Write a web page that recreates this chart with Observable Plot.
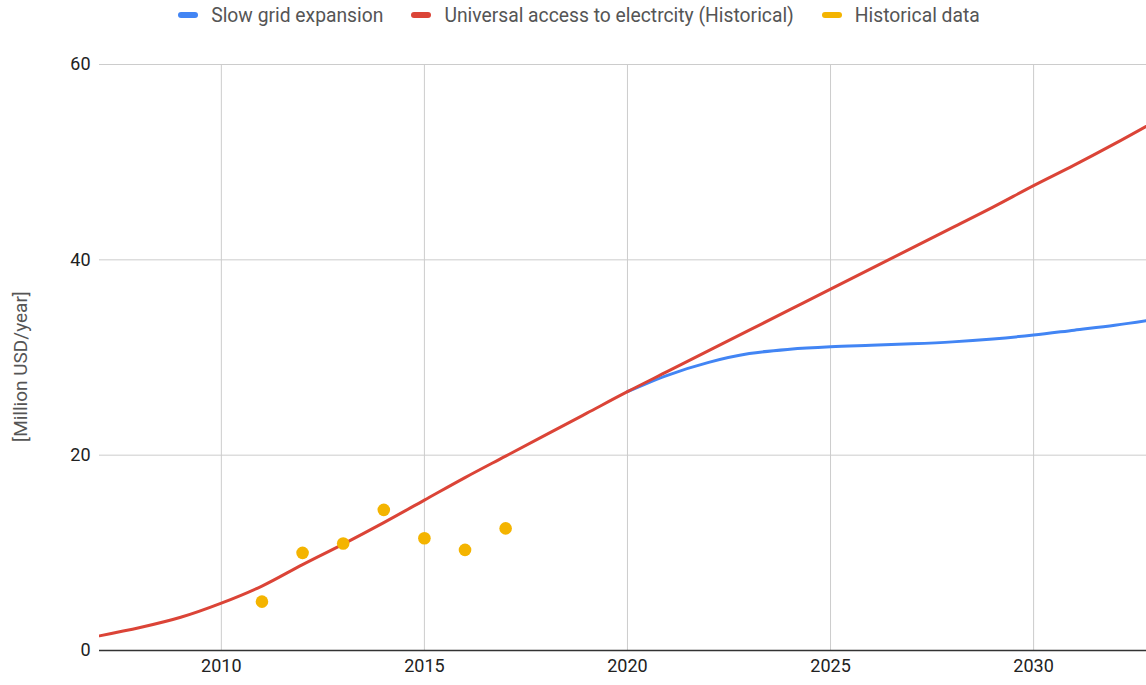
<!DOCTYPE html>
<html><head><meta charset="utf-8">
<script src="https://cdn.jsdelivr.net/npm/d3@7"></script>
<script src="https://cdn.jsdelivr.net/npm/@observablehq/plot@0.6"></script>
<style>
body{margin:0;background:#fff;font-family:Roboto,sans-serif;overflow:hidden;}
#legend{height:30px;display:flex;justify-content:center;align-items:center;font-size:19.3px;color:#555;padding-left:12px;}
.item{display:flex;align-items:center;margin:0 14px;}
.sw{width:20px;height:6px;border-radius:3px;margin-right:13px;}
</style></head><body>
<div id="legend"></div><div id="chart"></div>
<script>
const seriesNames = ["Slow grid expansion", "Universal access to electrcity (Historical)", "Historical data"];
const seriesColors = ["#4285F4", "#DB4437", "#F4B400"];

const universalYears = [2007,2008,2009,2010,2011,2012,2013,2014,2015,2016,2017,2018,2019,2020,2021,2022,2023,2024,2025,2026,2027,2028,2029,2030,2031,2032,2033];
const universalValues = [1.5,2.35,3.4,4.85,6.6,8.8,10.9,13.1,15.4,17.7,19.9,22.1,24.3,26.5,28.6,30.7,32.8,34.9,37.0,39.1,41.2,43.3,45.4,47.6,49.7,51.9,54.2];

const slowYears = [2020,2021,2022,2023,2024,2025,2026,2027,2028,2029,2030,2031,2032,2033];
const slowValues = [26.5,28.2,29.5,30.4,30.85,31.1,31.25,31.4,31.6,31.9,32.3,32.8,33.3,33.9];

const histYears = [2011,2012,2013,2014,2015,2016,2017];
const histValues = [5.0,10.0,10.95,14.4,11.5,10.3,12.5];

const xTicks = [2010,2015,2020,2025,2030];
const yTicks = [0,20,40,60];

const universal = universalYears.map((x,i)=>({x, y: universalValues[i]}));
const slow = slowYears.map((x,i)=>({x, y: slowValues[i]}));
const hist = histYears.map((x,i)=>({x, y: histValues[i]}));

const legend = document.getElementById("legend");
seriesNames.forEach((n,i)=>{
  const it = document.createElement("div"); it.className="item";
  const sw = document.createElement("div"); sw.className="sw"; sw.style.background=seriesColors[i];
  const t = document.createElement("span"); t.textContent=n;
  it.appendChild(sw); it.appendChild(t); legend.appendChild(it);
});

const chart = Plot.plot({
  width: 1146,
  height: 655,
  marginLeft: 99,
  marginRight: 0,
  marginTop: 34,
  marginBottom: 35,
  style: {fontFamily: "Roboto, sans-serif", fontSize: "18px", color: "#222", background: "#fff"},
  x: {domain: [2007, 2032.78], ticks: xTicks, tickFormat: d => String(d)},
  y: {domain: [0, 60], ticks: yTicks},
  marks: [
    Plot.gridX(xTicks, {stroke: "#ccc", strokeOpacity: 1}),
    Plot.gridY(yTicks, {stroke: "#ccc", strokeOpacity: 1}),
    Plot.axisX({ticks: xTicks, tickSize: 0, tickPadding: 9, label: null, tickFormat: d => String(d), fill: "#222", fontSize: 18}),
    Plot.axisY({ticks: yTicks, tickSize: 0, tickPadding: 9, label: null, fill: "#222", fontSize: 18}),
    Plot.text(["[Million USD/year]"], {frameAnchor: "left", dx: -79, dy: 9, rotate: -90, fill: "#555", fontSize: 19, textAnchor: "middle"}),
    Plot.ruleY([0], {stroke: "#333", strokeWidth: 1.5}),
    Plot.line(slow, {x: "x", y: "y", stroke: seriesColors[0], strokeWidth: 3, curve: "catmull-rom", clip: true}),
    Plot.line(universal, {x: "x", y: "y", stroke: seriesColors[1], strokeWidth: 3, curve: "catmull-rom", clip: true}),
    Plot.dot(hist, {x: "x", y: "y", r: 6.3, fill: seriesColors[2], stroke: "none"})
  ]
});
document.getElementById("chart").appendChild(chart);
</script>
</body></html>
